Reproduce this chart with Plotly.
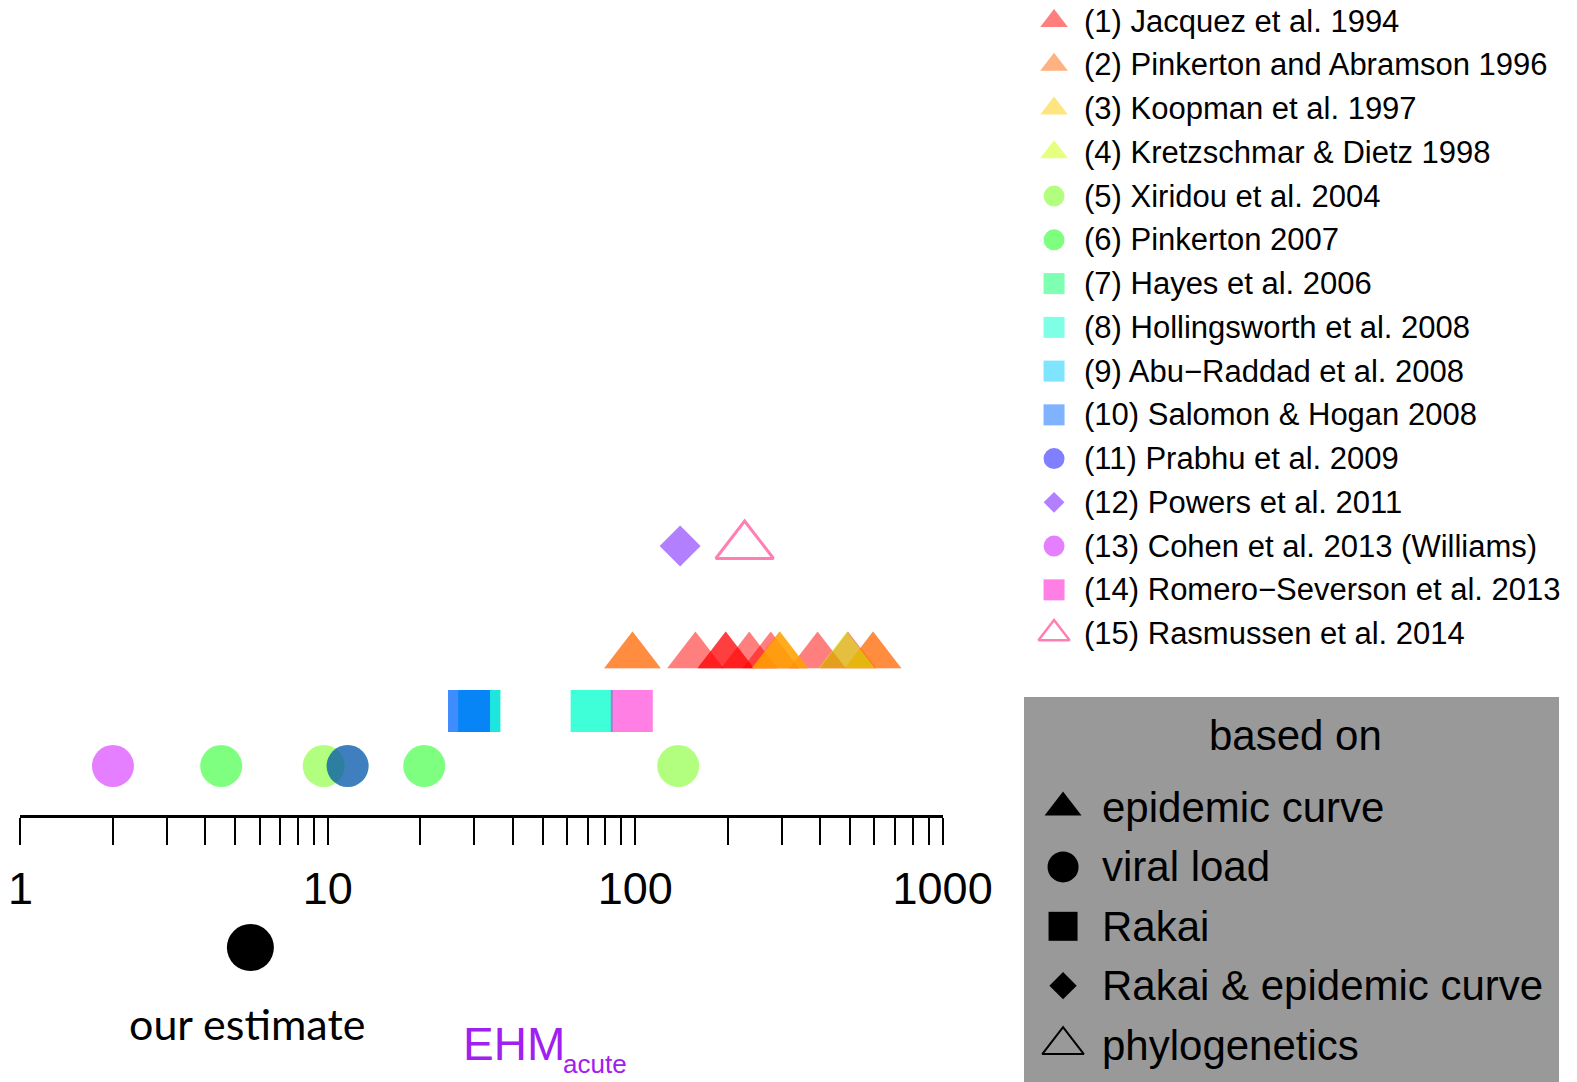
import numpy as np
import plotly.graph_objects as go

# ---------------- data ----------------
studies = [
    "(1) Jacquez et al. 1994",
    "(2) Pinkerton and Abramson 1996",
    "(3) Koopman et al. 1997",
    "(4) Kretzschmar & Dietz 1998",
    "(5) Xiridou et al. 2004",
    "(6) Pinkerton 2007",
    "(7) Hayes et al. 2006",
    "(8) Hollingsworth et al. 2008",
    "(9) Abu\u2212Raddad et al. 2008",
    "(10) Salomon & Hogan 2008",
    "(11) Prabhu et al. 2009",
    "(12) Powers et al. 2011",
    "(13) Cohen et al. 2013 (Williams)",
    "(14) Romero\u2212Severson et al. 2013",
    "(15) Rasmussen et al. 2014",
]
study_colors = ["#FF0000", "#FF6600", "#FFCC00", "#CCFF00", "#66FF00",
                "#00FF00", "#00FF66", "#00FFCC", "#00CCFF", "#0066FF",
                "#0000FF", "#6600FF", "#CC00FF", "#FF00CC", "#FF0066"]
study_basis = ["epidemic curve", "epidemic curve", "epidemic curve", "epidemic curve",
               "viral load", "viral load", "Rakai", "Rakai", "Rakai", "Rakai",
               "viral load", "Rakai & epidemic curve", "viral load", "Rakai",
               "phylogenetics"]

# EHM_acute estimates
jacquez_1994 = [157, 197, 197, 235, 276, 392, 492]
pinkerton_abramson_1996 = [98, 98, 295, 295, 594, 594]
koopman_1997 = [296]
kretzschmar_dietz_1998 = [488]
xiridou_2004 = [9.7, 138]
pinkerton_2007 = [4.5, 11.6, 20.6]
hayes_2006 = [31.1]
hollingsworth_2008 = [31.1, 72.2, 72.2]
abu_raddad_2008 = [31.1]
salomon_hogan_2008 = [28.8, 28.8]
prabhu_2009 = [11.6]
powers_2011 = [140]
cohen_2013 = [2.0]
romero_severson_2013 = [97.5]
rasmussen_2014 = [227]
study_values = [jacquez_1994, pinkerton_abramson_1996, koopman_1997,
                kretzschmar_dietz_1998, xiridou_2004, pinkerton_2007, hayes_2006,
                hollingsworth_2008, abu_raddad_2008, salomon_hogan_2008,
                prabhu_2009, powers_2011, cohen_2013, romero_severson_2013,
                rasmussen_2014]

our_estimate = 5.6

basis_names = ["epidemic curve", "viral load", "Rakai",
               "Rakai & epidemic curve", "phylogenetics"]

major_ticks = [1, 10, 100, 1000]
major_labels = ["1", "10", "100", "1000"]
minor_ticks = [m * d for d in (1, 10, 100) for m in range(2, 10)]

# ---------------- styles ----------------
basis_symbols = ["triangle-up", "circle", "square", "diamond", "triangle-up-open"]
basis_rows = [3, 1, 2, 5, 5]          # vertical row for each basis
estimate_row = -2.3
plot_sizes = [49, 42, 42, 31.5, 50]
legend_sizes = [24, 21, 21, 16, 27]
box_sizes = [32, 31, 29, 21, 36]
FONT = "Liberation Sans, Arial, Helvetica, sans-serif"


def rgba(h, a=0.5):
    h = h.lstrip("#")
    return f"rgba({int(h[0:2], 16)},{int(h[2:4], 16)},{int(h[4:6], 16)},{a})"


fig = go.Figure()

# main strip chart
for name, col, basis, vals in zip(studies, study_colors, study_basis, study_values):
    b = basis_names.index(basis)
    sym = basis_symbols[b]
    is_open = sym.endswith("-open")
    fig.add_trace(go.Scatter(
        x=vals, y=[basis_rows[b]] * len(vals), mode="markers", name=name,
        marker=dict(symbol=sym, size=plot_sizes[b], color=rgba(col),
                    line=dict(width=3 if is_open else 0, color=rgba(col))),
        showlegend=False, hoverinfo="skip", xaxis="x", yaxis="y"))

# our estimate
fig.add_trace(go.Scatter(
    x=[our_estimate], y=[estimate_row], mode="markers",
    marker=dict(symbol="circle", size=47, color="black", line=dict(width=0)),
    showlegend=False, hoverinfo="skip", xaxis="x", yaxis="y"))

annotations = []

# study legend
for i, (name, col, basis) in enumerate(zip(studies, study_colors, study_basis)):
    b = basis_names.index(basis)
    sym = basis_symbols[b]
    is_open = sym.endswith("-open")
    fig.add_trace(go.Scatter(
        x=[0], y=[i], mode="markers",
        marker=dict(symbol=sym, size=legend_sizes[b], color=rgba(col),
                    line=dict(width=2.5 if is_open else 0, color=rgba(col))),
        showlegend=False, hoverinfo="skip", xaxis="x2", yaxis="y2"))
    annotations.append(dict(x=28, y=i, xref="x2", yref="y2", text=name,
                            showarrow=False, xanchor="left", yanchor="middle",
                            font=dict(family=FONT, size=31, color="black")))

# "based on" box
for k, basis in enumerate(basis_names):
    sym = basis_symbols[k]
    is_open = sym.endswith("-open")
    fig.add_trace(go.Scatter(
        x=[9], y=[k], mode="markers",
        marker=dict(symbol=sym, size=box_sizes[k], color="black",
                    line=dict(width=2 if is_open else 0, color="black")),
        showlegend=False, hoverinfo="skip", xaxis="x2", yaxis="y3"))
    annotations.append(dict(x=46, y=k, xref="x2", yref="y3", text=basis,
                            showarrow=False, xanchor="left", yanchor="middle",
                            font=dict(family=FONT, size=42, color="black")))

annotations.append(dict(x=1295 / 1577, y=1 - 735 / 1082, xref="paper", yref="paper",
                        text="based on", showarrow=False, xanchor="center",
                        yanchor="middle", font=dict(family=FONT, size=42, color="black")))
annotations.append(dict(x=247 / 1577, y=1 - 1023 / 1082, xref="paper", yref="paper",
                        text="our estimate", showarrow=False, xanchor="center",
                        yanchor="middle", font=dict(family="Lato, sans-serif", size=43,
                                                    color="black")))
annotations.append(dict(x=461 / 1577, y=1 - 1044 / 1082, xref="paper", yref="paper",
                        text="EHM", showarrow=False, xanchor="left", yanchor="middle",
                        font=dict(family=FONT, size=46, color="#A020F0")))
annotations.append(dict(x=561 / 1577, y=1 - 1064 / 1082, xref="paper", yref="paper",
                        text="acute", showarrow=False, xanchor="left", yanchor="middle",
                        font=dict(family=FONT, size=26, color="#A020F0")))

shapes = [dict(type="rect", xref="paper", yref="paper",
               x0=1024 / 1577, x1=1559 / 1577, y0=-0.01, y1=1 - 697 / 1082,
               fillcolor="#999999", line=dict(width=0), layer="below")]

fig.update_layout(
    width=1577, height=1082,
    margin=dict(l=0, r=0, t=0, b=0, pad=0, autoexpand=False),
    paper_bgcolor="white", plot_bgcolor="rgba(0,0,0,0)",
    showlegend=False,
    annotations=annotations, shapes=shapes,
    xaxis=dict(type="log", domain=[20.4 / 1577, 942.6 / 1577], range=[0, 3],
               anchor="free", position=(1082 - 815.6) / 1082,
               showline=True, linewidth=3, linecolor="black",
               ticks="outside", ticklen=27, tickwidth=2, tickcolor="black",
               tickmode="array", tickvals=major_ticks, ticktext=major_labels,
               tickfont=dict(family=FONT, size=45, color="black"),
               ticklabelstandoff=5, automargin=False,
               minor=dict(tickmode="array", tickvals=minor_ticks, ticks="outside",
                          ticklen=27, tickwidth=2, tickcolor="black", showgrid=False),
               showgrid=False, zeroline=False, fixedrange=True),
    yaxis=dict(domain=[0, 1], range=[-4.745, 14.927], visible=False,
               showgrid=False, zeroline=False, fixedrange=True),
    xaxis2=dict(domain=[0.65, 1.0], range=[-29, 522.95], visible=False,
                anchor="y2", showgrid=False, zeroline=False),
    yaxis2=dict(domain=[0, 1], range=[24.249, -0.4823], visible=False,
                anchor="x2", showgrid=False, zeroline=False),
    yaxis3=dict(domain=[0, 1], range=[4.621, -13.594], visible=False,
                anchor="x2", overlaying="y2", showgrid=False, zeroline=False),
)

fig.write_html("out.html",
               config={"displayModeBar": False, "staticPlot": True},
               post_script="document.body.style.margin='0';"
                           "document.body.style.overflow='hidden';")
